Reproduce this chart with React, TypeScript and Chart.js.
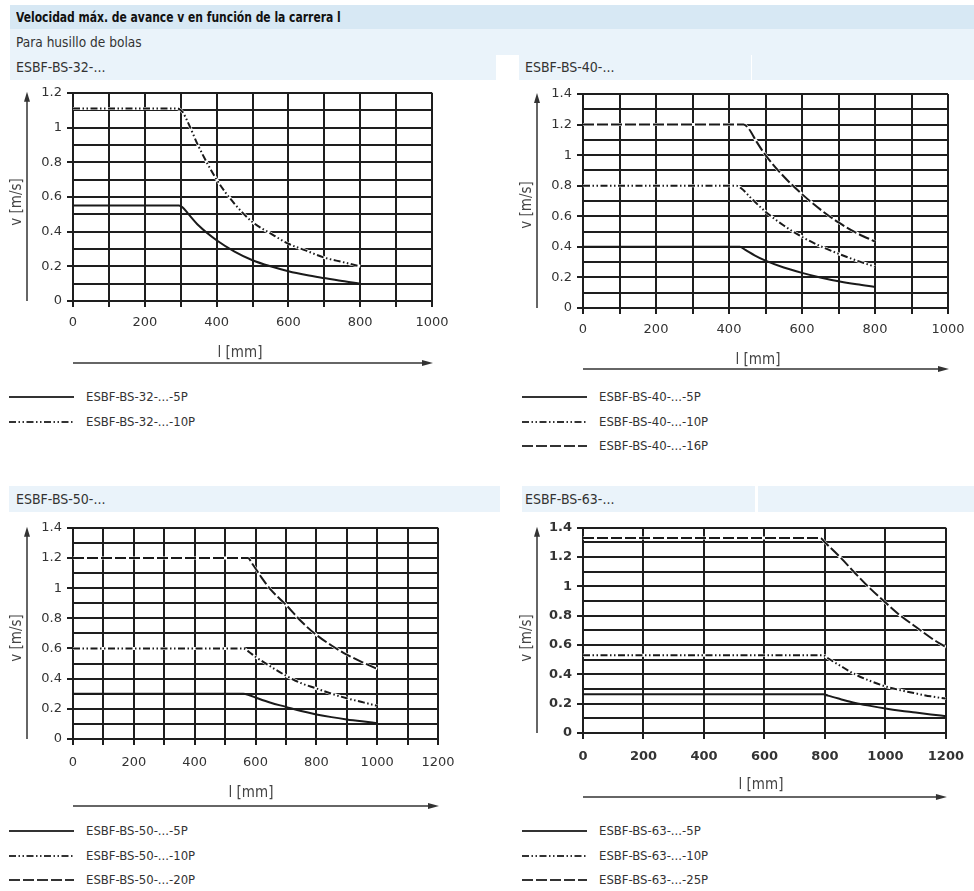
import React, { useEffect, useRef } from "react";
import { Chart, registerables } from "chart.js";
Chart.register(...registerables);

// ---------- DATA ----------
// ESBF-BS-32
const bs32X5P = [0, 295, 305, 320, 350, 400, 450, 500, 550, 600, 650, 700, 750, 800];
const bs32Y5P = [0.55, 0.55, 0.54, 0.505, 0.435, 0.35, 0.285, 0.235, 0.2, 0.172, 0.15, 0.132, 0.115, 0.1];
const bs32X10P = [0, 290, 305, 320, 350, 400, 450, 500, 550, 600, 650, 700, 750, 800];
const bs32Y10P = [1.11, 1.11, 1.09, 1.03, 0.89, 0.7, 0.56, 0.455, 0.39, 0.33, 0.29, 0.25, 0.225, 0.2];
// ESBF-BS-40
const bs40X5P = [0, 430, 445, 470, 500, 550, 600, 650, 700, 750, 800];
const bs40Y5P = [0.4, 0.4, 0.38, 0.345, 0.31, 0.265, 0.23, 0.2, 0.175, 0.155, 0.138];
const bs40X10P = [0, 420, 435, 460, 500, 550, 600, 650, 700, 750, 800];
const bs40Y10P = [0.8, 0.8, 0.78, 0.72, 0.63, 0.54, 0.465, 0.405, 0.355, 0.31, 0.27];
const bs40X16P = [0, 440, 455, 475, 500, 550, 600, 650, 700, 750, 800];
const bs40Y16P = [1.2, 1.2, 1.17, 1.09, 1.0, 0.86, 0.745, 0.645, 0.56, 0.49, 0.435];
// ESBF-BS-50
const bs50X5P = [0, 560, 580, 600, 650, 700, 750, 800, 850, 900, 950, 1000];
const bs50Y5P = [0.3, 0.3, 0.29, 0.275, 0.24, 0.213, 0.185, 0.163, 0.145, 0.13, 0.117, 0.105];
const bs50X10P = [0, 560, 580, 600, 650, 700, 750, 800, 850, 900, 950, 1000];
const bs50Y10P = [0.6, 0.6, 0.575, 0.545, 0.48, 0.42, 0.37, 0.335, 0.3, 0.27, 0.245, 0.22];
const bs50X20P = [0, 575, 590, 620, 650, 700, 750, 800, 850, 900, 950, 1000];
const bs50Y20P = [1.2, 1.2, 1.16, 1.07, 0.99, 0.89, 0.78, 0.69, 0.62, 0.56, 0.51, 0.465];
// ESBF-BS-63
const bs63X5P = [0, 795, 810, 850, 900, 950, 1000, 1050, 1100, 1150, 1200];
const bs63Y5P = [0.265, 0.265, 0.255, 0.232, 0.205, 0.185, 0.167, 0.152, 0.14, 0.127, 0.115];
const bs63X10P = [0, 795, 810, 850, 900, 950, 1000, 1050, 1100, 1150, 1200];
const bs63Y10P = [0.53, 0.53, 0.51, 0.46, 0.4, 0.355, 0.318, 0.292, 0.27, 0.25, 0.235];
const bs63X25P = [0, 785, 800, 850, 900, 950, 1000, 1050, 1100, 1150, 1200];
const bs63Y25P = [1.33, 1.33, 1.3, 1.2, 1.09, 0.985, 0.89, 0.8, 0.725, 0.65, 0.585];

const legend32 = ["ESBF-BS-32-...-5P", "ESBF-BS-32-...-10P"];
const legend40 = ["ESBF-BS-40-...-5P", "ESBF-BS-40-...-10P", "ESBF-BS-40-...-16P"];
const legend50 = ["ESBF-BS-50-...-5P", "ESBF-BS-50-...-10P", "ESBF-BS-50-...-20P"];
const legend63 = ["ESBF-BS-63-...-5P", "ESBF-BS-63-...-10P", "ESBF-BS-63-...-25P"];

const titleText = "Velocidad máx. de avance v en función de la carrera l";
const subTitleText = "Para husillo de bolas";
const panelTitles = ["ESBF-BS-32-...", "ESBF-BS-40-...", "ESBF-BS-50-...", "ESBF-BS-63-..."];
const xAxisTitle = "l [mm]";
const yAxisTitle = "v [m/s]";

// ---------- STYLE ----------
const GRID = "#1e1e1e";
const LINE = "#1a1a1a";
const DASH_SOLID: number[] = [];
const DASH_DDOT = [7, 2.5, 1.5, 2.5, 1.5, 2.5];
const DASH_LONG = [11, 3];
const TICK_FONT = "'DejaVu Sans', sans-serif";
const NARROW = "'Liberation Sans Narrow', 'DejaVu Sans Condensed', 'DejaVu Sans', sans-serif";

const axisDecor = {
  id: "axisDecor",
  afterDraw(chart: any, _args: any, o: any) {
    const { ctx, chartArea: a } = chart;
    ctx.save();
    ctx.strokeStyle = "#333";
    ctx.fillStyle = "#333";
    ctx.lineWidth = 1.5;
    ctx.setLineDash([]);
    // y arrow
    ctx.beginPath();
    ctx.moveTo(o.yArrowX, a.bottom);
    ctx.lineTo(o.yArrowX, a.top + 6);
    ctx.stroke();
    ctx.beginPath();
    ctx.moveTo(o.yArrowX, a.top - 1);
    ctx.lineTo(o.yArrowX - 3, a.top + 9);
    ctx.lineTo(o.yArrowX + 3, a.top + 9);
    ctx.closePath();
    ctx.fill();
    // x arrow
    ctx.beginPath();
    ctx.moveTo(a.left, o.xArrowY);
    ctx.lineTo(a.right - 6, o.xArrowY);
    ctx.stroke();
    ctx.beginPath();
    ctx.moveTo(a.right + 1, o.xArrowY);
    ctx.lineTo(a.right - 10, o.xArrowY - 3);
    ctx.lineTo(a.right - 10, o.xArrowY + 3);
    ctx.closePath();
    ctx.fill();
    // titles
    ctx.fillStyle = "#444";
    ctx.font = `15px ${NARROW}`;
    ctx.textAlign = "center";
    ctx.textBaseline = "middle";
    ctx.fillText(xAxisTitle, o.xLabelX, o.xLabelY);
    ctx.translate(o.yLabelX, o.yLabelY);
    ctx.rotate(-Math.PI / 2);
    ctx.fillText(yAxisTitle, 0, 0);
    ctx.restore();
  },
};

type Series = { xs: number[]; ys: number[]; dash: number[] };
type PanelProps = {
  left: number; top: number; width: number; height: number;
  pl: number; pr: number; pt: number; pb: number;
  xMax: number; xStep: number; xLabelStep: number; yMax: number;
  bold?: boolean; xPad: number;
  yArrowX: number; yLabelX: number; yLabelY: number;
  xLabelX: number; xLabelY: number; xArrowY: number;
  series: Series[];
};

const fmtY = (v: number) => String(Math.round(v * 10) / 10);

function Panel(p: PanelProps) {
  const ref = useRef<HTMLCanvasElement>(null);
  useEffect(() => {
    if (!ref.current) return;
    const xAxisH = 40;
    const font = { family: TICK_FONT, size: 13, weight: p.bold ? "bold" : "normal" } as any;
    const datasets: any[] = [];
    p.series.forEach((s) => {
      const pts = s.xs.map((x, i) => ({ x, y: s.ys[i] }));
      if (s.dash.length) {
        // white knock-out underneath, so dash gaps show paper, not grid
        datasets.push({
          data: pts, borderColor: "#ffffff", borderWidth: 3, pointRadius: 0, fill: false,
          cubicInterpolationMode: "monotone", order: 2,
        });
      }
      datasets.push({
        data: pts, borderColor: LINE, borderWidth: 2, borderDash: s.dash, pointRadius: 0, fill: false,
        cubicInterpolationMode: "monotone", order: 1,
      });
    });
    const chart = new Chart(ref.current, {
      type: "line",
      data: { datasets },
      plugins: [axisDecor],
      options: {
        animation: false,
        responsive: false,
        devicePixelRatio: 1,
        layout: {
          padding: { left: 0, top: p.pt, right: p.width - p.pr, bottom: p.height - p.pb - xAxisH },
        },
        plugins: {
          legend: { display: false },
          tooltip: { enabled: false },
          axisDecor: {
            yArrowX: p.yArrowX, yLabelX: p.yLabelX, yLabelY: p.yLabelY,
            xLabelX: p.xLabelX, xLabelY: p.xLabelY, xArrowY: p.xArrowY,
          },
        } as any,
        scales: {
          x: {
            type: "linear",
            min: 0,
            max: p.xMax,
            afterFit: (s: any) => { s.height = xAxisH; },
            ticks: {
              stepSize: p.xStep,
              autoSkip: false,
              maxRotation: 0,
              padding: p.xPad,
              color: "#333",
              font,
              callback: (v: any) => (Math.round(v) % p.xLabelStep === 0 ? String(Math.round(v)) : ""),
            },
            grid: { color: GRID, lineWidth: 2, tickLength: 6, tickColor: GRID },
            border: { display: true, color: GRID, width: 2 },
          },
          y: {
            type: "linear",
            min: 0,
            max: p.yMax,
            afterFit: (s: any) => { s.width = p.pl; },
            ticks: {
              stepSize: 0.1,
              autoSkip: false,
              padding: 5,
              color: "#333",
              font,
              callback: (v: any, i: number) => (i % 2 === 0 ? fmtY(v) : ""),
            },
            grid: {
              color: GRID,
              lineWidth: 2,
              tickLength: 6,
              tickColor: (c: any) => (c.index % 2 === 0 ? GRID : "rgba(0,0,0,0)"),
            },
            border: { display: true, color: GRID, width: 2 },
          },
        },
      } as any,
    });
    return () => chart.destroy();
  }, []);
  return (
    <canvas
      ref={ref}
      width={p.width}
      height={p.height}
      style={{ position: "absolute", left: p.left, top: p.top, width: p.width, height: p.height }}
    />
  );
}

function Legend({ left, top, labels, dashes }: { left: number; top: number; labels: string[]; dashes: number[][] }) {
  return (
    <>
      {labels.map((t, i) => {
        const y = top + [0, 24.5, 49][i];
        return (
          <div key={t} style={{ position: "absolute", left, top: y - 10, height: 20, width: 300 }}>
            <svg width={66} height={20} style={{ position: "absolute", left: 0, top: 0 }}>
              <line x1={0} y1={10} x2={65} y2={10} stroke="#333" strokeWidth={2} strokeDasharray={dashes[i].length ? dashes[i].join(" ") : undefined} />
            </svg>
            <span style={{ position: "absolute", left: 77, top: 0, lineHeight: "20px", fontSize: 13, fontFamily: NARROW, color: "#333", whiteSpace: "nowrap" }}>{t}</span>
          </div>
        );
      })}
    </>
  );
}

const BAND_DARK = "#d7e8f4";
const BAND_LIGHT = "#eaf3fa";

function Box({ l, t, w, h, bg, text, bold, tx = 6, sx = 1 }: any) {
  return (
    <div style={{ position: "absolute", left: l, top: t, width: w, height: h, background: bg }}>
      {text ? (
        <span style={{ position: "absolute", left: tx, top: 0, lineHeight: `${h}px`, fontFamily: NARROW, fontSize: 14, fontWeight: bold ? "bold" : "normal", color: bold ? "#111" : "#333", whiteSpace: "nowrap", transform: `scaleX(${sx})`, transformOrigin: "left center" }}>{text}</span>
      ) : null}
    </div>
  );
}

export default function App() {
  const dashes3 = [DASH_SOLID, DASH_DDOT, DASH_LONG];
  return (
    <div style={{ position: "absolute", left: 0, top: 0, width: 974, height: 891, background: "#fff", overflow: "hidden" }}>
      <Box l={10} t={5} w={964} h={24} bg={BAND_DARK} text={titleText} bold sx={0.855} />
      <Box l={10} t={29} w={964} h={26} bg={BAND_LIGHT} text={subTitleText} sx={0.97} />
      <Box l={10} t={55} w={486} h={25} bg={BAND_LIGHT} text={panelTitles[0]} />
      <Box l={519} t={55} w={232} h={25} bg={BAND_LIGHT} text={panelTitles[1]} />
      <Box l={752} t={55} w={222} h={25} bg={BAND_LIGHT} />
      <Box l={9} t={486} w={491} h={26} bg={BAND_LIGHT} text={panelTitles[2]} tx={7} />
      <Box l={522} t={486} w={233} h={26} bg={BAND_LIGHT} text={panelTitles[3]} tx={3} />
      <Box l={758} t={486} w={216} h={26} bg={BAND_LIGHT} />

      <Panel left={0} top={80} width={490} height={300} pl={73} pr={432} pt={12} pb={221}
        xMax={1000} xStep={100} xLabelStep={200} yMax={1.2} xPad={8}
        yArrowX={27} yLabelX={17} yLabelY={122} xLabelX={240} xLabelY={273} xArrowY={283}
        series={[
          { xs: bs32X5P, ys: bs32Y5P, dash: DASH_SOLID },
          { xs: bs32X10P, ys: bs32Y10P, dash: DASH_DDOT },
        ]} />
      <Panel left={500} top={80} width={474} height={300} pl={83} pr={448} pt={14} pb={228}
        xMax={1000} xStep={100} xLabelStep={200} yMax={1.4} xPad={8}
        yArrowX={37} yLabelX={27} yLabelY={125} xLabelX={258} xLabelY={280} xArrowY={289}
        series={[
          { xs: bs40X5P, ys: bs40Y5P, dash: DASH_SOLID },
          { xs: bs40X10P, ys: bs40Y10P, dash: DASH_DDOT },
          { xs: bs40X16P, ys: bs40Y16P, dash: DASH_LONG },
        ]} />
      <Panel left={0} top={515} width={490} height={300} pl={73} pr={438} pt={10} pb={224}
        xMax={1200} xStep={100} xLabelStep={200} yMax={1.4} xPad={10}
        yArrowX={27} yLabelX={17} yLabelY={123} xLabelX={251} xLabelY={278} xArrowY={291}
        series={[
          { xs: bs50X5P, ys: bs50Y5P, dash: DASH_SOLID },
          { xs: bs50X10P, ys: bs50Y10P, dash: DASH_DDOT },
          { xs: bs50X20P, ys: bs50Y20P, dash: DASH_LONG },
        ]} />
      <Panel left={500} top={515} width={474} height={300} pl={83} pr={447} pt={9} pb={218}
        xMax={1200} xStep={200} xLabelStep={200} yMax={1.4} xPad={10} bold
        yArrowX={37} yLabelX={27} yLabelY={123} xLabelX={261} xLabelY={270} xArrowY={282}
        series={[
          { xs: bs63X5P, ys: bs63Y5P, dash: DASH_SOLID },
          { xs: bs63X10P, ys: bs63Y10P, dash: DASH_DDOT },
          { xs: bs63X25P, ys: bs63Y25P, dash: DASH_LONG },
        ]} />

      <Legend left={9} top={397} labels={legend32} dashes={dashes3} />
      <Legend left={522} top={397} labels={legend40} dashes={dashes3} />
      <Legend left={9} top={831} labels={legend50} dashes={dashes3} />
      <Legend left={522} top={831} labels={legend63} dashes={dashes3} />
    </div>
  );
}
